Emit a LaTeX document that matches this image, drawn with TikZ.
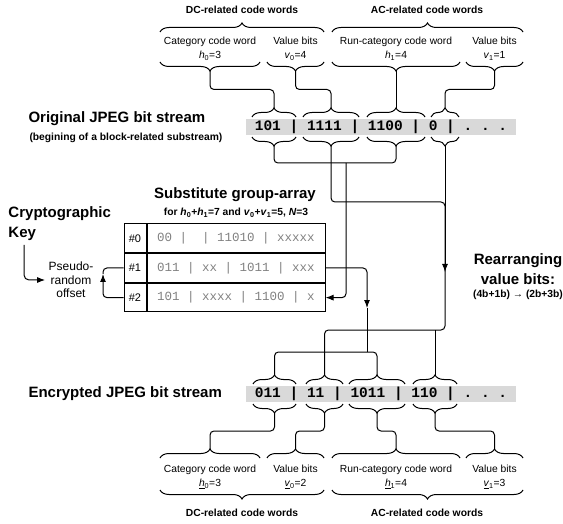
\documentclass[tikz,border=0pt]{standalone}
\usepackage{fontspec}
\setmainfont{Liberation Sans}
\setmonofont{Liberation Mono}
\usetikzlibrary{arrows.meta, positioning, calc, decorations.pathreplacing}

\tikzset{
  ttl/.style={font=\fontsize{15}{20}\selectfont\bfseries, inner sep=0pt},
  sml/.style={font=\fontsize{10.3}{12}\selectfont\bfseries, inner sep=0pt},
  lbl/.style={font=\fontsize{10.3}{14}\selectfont, align=center, inner sep=0pt},
  brc/.style={decorate, decoration={brace, amplitude=9pt}},
  strm/.style={fill=black!15, minimum width=270, minimum height=16, inner sep=0pt,
    font=\fontsize{14.5}{16}\selectfont\ttfamily\bfseries},
  idx/.style={draw, minimum width=22, minimum height=28.67, inner sep=0pt,
    font=\fontsize{11}{13}\selectfont},
  cell/.style={draw, minimum width=178, minimum height=28.67, inner sep=0pt,
    text=black!50, font=\fontsize{12.5}{14}\selectfont\ttfamily},
  arr/.style={-{Latex[length=8pt,width=6pt]}},
  elbow/.style={to path={|- ($(\tikztostart)!.5!(\tikztotarget)$) -| (\tikztotarget)}}
}

\begin{document}
\begin{tikzpicture}[x=1pt, y=-1pt, line width=1pt]
\useasboundingbox (0,0) rectangle (563,524);

% stream titles
\node[ttl, anchor=west] (origt) at (28,119) {Original JPEG bit stream};
\node[sml, anchor=west] (origs) at (29,138) {(begining of a block-related substream)};
\node[ttl, anchor=west] (encrt) at (28,394) {Encrypted JPEG bit stream};

% bit streams
\node[strm] (osb) at (381,127) {101 | 1111 | 1100 | 0 | . . .};
\node[strm] (esb) at (381,394) {011 | 11 | 1011 | 110 | . . .};

% original code words
\node[sml] (dct) at (242,10) {DC-related code words};
\node[sml] (act) at (427,10) {AC-related code words};
\draw[brc] (160,32) -- (324,32);
\draw[brc] (332,32) -- (523,32);
\node[lbl] (catt) at (210,49) {Category code word\\\textit{h}\textsubscript{0}=3};
\node[lbl] (valt) at (295.5,49) {Value bits\\\textit{v}\textsubscript{0}=4};
\node[lbl] (runt) at (396,49) {Run-category code word\\\textit{h}\textsubscript{1}=4};
\node[lbl] (vat) at (494.5,49) {Value bits\\\textit{v}\textsubscript{1}=1};
\foreach \a/\b/\n in {160/260/tc, 267/324/tv, 332/460/tr, 466/523/tw}{
  \draw[brc] (\b,62) -- (\a,62);
  \coordinate (\n) at ({(\a+\b)/2},71);
}

% braces of the streams
\foreach \a/\b/\n in {252/296/o1, 303/359/o2, 367/425/o3, 431/459/o4}{
  \draw[brc] (\a,117) -- (\b,117);
  \draw[brc] (\b,137) -- (\a,137);
  \coordinate (\n t) at ({(\a+\b)/2},108);
  \coordinate (\n b) at ({(\a+\b)/2},146);
}
\foreach \a/\b/\n in {253/296/e1, 306/343/e2, 349/405/e3, 413/457/e4}{
  \draw[brc] (\a,384) -- (\b,384);
  \draw[brc] (\b,404) -- (\a,404);
  \coordinate (\n t) at ({(\a+\b)/2},375);
  \coordinate (\n b) at ({(\a+\b)/2},413);
}

% encrypted code words
\foreach \a/\b/\n in {160/260/bc, 267/324/bv, 332/460/br, 466/523/bw}{
  \draw[brc] (\a,458) -- (\b,458);
  \coordinate (\n) at ({(\a+\b)/2},449);
}
\node[lbl] (catb) at (210,477) {Category code word\\\underline{\textit{h}}\textsubscript{0}=3};
\node[lbl] (valb) at (295.5,477) {Value bits\\\underline{\textit{v}}\textsubscript{0}=2};
\node[lbl] (runb) at (396,477) {Run-category code word\\\underline{\textit{h}}\textsubscript{1}=4};
\node[lbl] (vab) at (494.5,477) {Value bits\\\underline{\textit{v}}\textsubscript{1}=3};
\draw[brc] (324,490) -- (160,490);
\draw[brc] (523,490) -- (332,490);
\node[sml] (dcb) at (242,513) {DC-related code words};
\node[sml] (acb) at (427,513) {AC-related code words};

% substitute group-array
\node[ttl] (sga) at (235,195) {Substitute group-array};
\node[sml] (sgc) at (236,213) {for \textit{h}\textsubscript{0}+\textit{h}\textsubscript{1}=7 and \textit{v}\textsubscript{0}+\textit{v}\textsubscript{1}=5, \textit{N}=3};
\node[idx] (i0) at (135,238.3) {\#0};
\node[cell, right=0pt of i0] (r0) {00 |~~| 11010 | xxxxx};
\node[idx, below=0pt of i0] (i1) {\#1};
\node[cell, right=0pt of i1] (r1) {011 | xx | 1011 | xxx};
\node[idx, below=0pt of i1] (i2) {\#2};
\node[cell, right=0pt of i2] (r2) {101 | xxxx | 1100 | x};

% key
\node[ttl, align=left, anchor=north west] (key) at (8,206) {Cryptographic\\Key};
\node[font=\fontsize{12}{13.5}\selectfont, align=center, inner sep=3pt] (prng) at (71,280) {Pseudo-\\random\\offset};
\coordinate (kout) at (24,245);
\draw[arr, rounded corners=5] (kout) |- (prng.west);
\coordinate (lp) at (103,274);
\draw[arr, rounded corners=4] (i2.west) -| (lp);
\draw[rounded corners=4] (lp) |- (i1.west);

% rearranging
\node[ttl, align=center] (rear) at (518,269) {Rearranging\\value bits:};
\node[sml] (rearb) at (518,295) {(4b+1b) → (2b+3b)};

% connectors, original side
\draw[rounded corners=4] (tc) to[elbow] (o1t);
\draw[rounded corners=4] (tv) to[elbow] (o2t);
\draw (tr) -- (o3t);
\draw[rounded corners=4] (tw) to[elbow] (o4t);

\coordinate (j1) at (346,163);
\coordinate (j4) at (445,202);
\coordinate (a3) at (445,272);
\coordinate (j3) at (445,330);
\draw[rounded corners=4] (o1b) |- (j1) -| (o3b);
\draw[arr, rounded corners=4] (j1) |- (r2.east);
\draw[rounded corners=4] (o2b) |- (j4) -- (a3);
\draw[arr] (o4b) -- (a3);
\draw[rounded corners=4] (a3) -- (j3) -| (e2t);
\draw (e4t |- j3) -- (e4t);

\coordinate (a2) at (367,308);
\coordinate (j2) at (367,352);
\draw[arr, rounded corners=4] (r1.east) -| (a2);
\draw (a2) -- (j2);
\draw[rounded corners=4] (e1t) |- (j2) -| (e3t);

% connectors, encrypted side
\draw[rounded corners=4] (e1b) to[elbow] (bc);
\draw[rounded corners=4] (e2b) to[elbow] (bv);
\draw[rounded corners=4] (e3b) to[elbow] (br);
\draw[rounded corners=4] (e4b) to[elbow] (bw);
\end{tikzpicture}
\end{document}
